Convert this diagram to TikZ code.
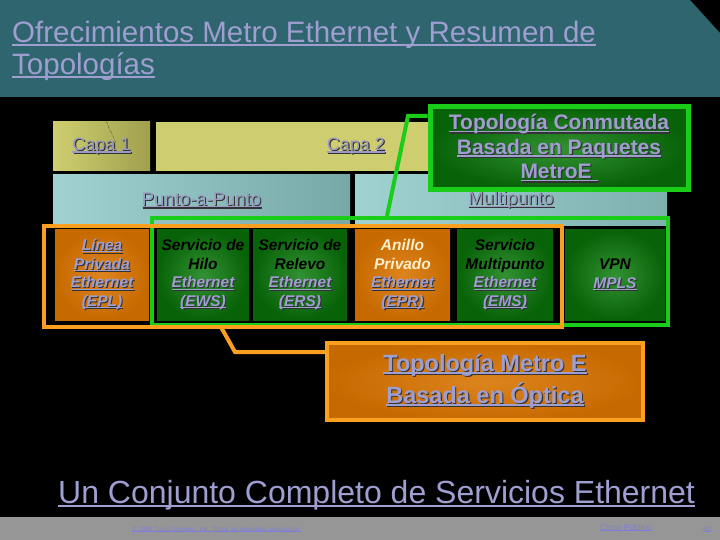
\documentclass[tikz,border=0pt]{standalone}
\usepackage{fontspec}
\setmainfont{Liberation Sans}
\usepackage{tikz}
\usetikzlibrary{calc,positioning}
\definecolor{mebar}{RGB}{47,101,111}
\definecolor{melav}{RGB}{158,158,208}
\definecolor{megray}{RGB}{150,150,150}
\definecolor{meline}{RGB}{25,205,25}
\definecolor{megin}{RGB}{50,145,50}
\definecolor{megout}{RGB}{8,98,8}
\definecolor{meorline}{RGB}{250,160,30}
\definecolor{meorin}{RGB}{222,132,30}
\definecolor{meorout}{RGB}{198,106,0}
\definecolor{meolive}{RGB}{206,206,112}
\definecolor{meolivedk}{RGB}{160,160,78}
\definecolor{mecyan}{RGB}{160,210,210}
\definecolor{mecyandk}{RGB}{118,168,168}
\definecolor{mecream}{RGB}{255,240,205}
\newcommand\ulbar[1]{\setbox0\hbox{#1}\rlap{\rule[-.12em]{\wd0}{.07em}}\box0}
\newcommand\shd[1]{\rlap{\kern1.1pt\raisebox{-1.1pt}{\color{black!80}#1}}#1}
\newcommand\lav[1]{\shd{\ulbar{#1}}}
\newcommand\blk[1]{{\color{black}#1}}
\newcommand\crm[1]{{\color{mecream}#1}}

\begin{document}
\begin{tikzpicture}[x=1pt,y=-1pt,
    lay/.style={minimum height=49,inner sep=0,text=melav!85!gray,font=\fontsize{18}{20}\selectfont},
    cell/.style={minimum width=94,minimum height=90,inner sep=0,align=center,text=melav,
      font=\bfseries\itshape\fontsize{15.5}{18.6}\selectfont},
    grn/.style={cell,inner color=megin,outer color=megout},
    org/.style={cell,inner color=meorin,outer color=meorout},
    frm/.style={draw,line width=4pt,inner sep=0},
    call/.style={line width=4pt},
    big/.style={align=center,text=melav,font=\bfseries\fontsize{21}{24.5}\selectfont}]
  \useasboundingbox (0,0) rectangle (720,540);
  \fill[black] (0,0) rectangle (720,540);
  \fill[mebar] (0,0)--(690,0)--(720,33)--(720,97)--(0,97)--cycle;
  \node[anchor=north west,align=left,inner sep=0,text=melav,font=\fontsize{29.5}{31.5}\selectfont]
    (title) at (12,21) {\ulbar{Ofrecimientos Metro Ethernet y Resumen de}\\\ulbar{Topologías}};

  % capas y modos
  \node[lay,minimum width=97,left color=meolive,right color=meolivedk] (capa1) at (101.5,146.5) {\lav{Capa 1}};
  \node[lay,minimum width=400,fill=meolive] (capa2) at (356,146.5) {\lav{Capa 2}};
  \node[lay,minimum width=297,minimum height=51,left color=mecyan,right color=mecyandk,
    font=\fontsize{18.5}{20}\selectfont] (p2p) at (201.5,200.5) {\lav{Punto-a-Punto}};
  \node[lay,minimum width=312,minimum height=51,left color=mecyan,right color=mecyandk!80!mecyan,
    font=\fontsize{18.5}{20}\selectfont] (mp) at (511,200.5) {\lav{Multipunto}};
  \coordinate (dt1) at (106,121);
  \coordinate (dt2) at (116,143);
  \draw[densely dotted,black,thin] (dt1)--(dt2);

  % servicios
  \node[org] (epl) at (102,275) {\lav{Línea}\\\lav{Privada}\\\lav{Ethernet}\\\lav{(EPL)}};
  \node[grn,minimum width=92] (ews) at (203,275) {\blk{Servicio de}\\\blk{Hilo}\\\lav{Ethernet}\\\lav{(EWS)}};
  \node[grn] (ers) at (300,275) {\blk{Servicio de}\\\blk{Relevo}\\\lav{Ethernet}\\\lav{(ERS)}};
  \node[org,minimum width=95] (epr) at (402.5,275) {\crm{Anillo}\\\crm{Privado}\\\lav{Ethernet}\\\lav{(EPR)}};
  \node[grn,minimum width=96] (ems) at (505,275) {\blk{Servicio}\\\blk{Multipunto}\\\lav{Ethernet}\\\lav{(EMS)}};
  \node[grn,minimum width=100] (vpn) at (615,275) {\blk{VPN}\\\lav{MPLS}};

  \node[frm,draw=meline,minimum width=516,minimum height=107] (gfrm) at (410,271.5) {};
  \node[frm,draw=meorline,minimum width=518,minimum height=101] (ofrm) at (303,276.5) {};

  % llamadas
  \node[big,draw=meline,line width=5pt,minimum width=258,minimum height=83,inner sep=0,
    inner color=megin,outer color=megout] (topcm) at (559,148.5)
    {\lav{Topología Conmutada}\\\lav{Basada en Paquetes}\\\lav{MetroE }};
  \coordinate (gknee) at (408,116);
  \coordinate (gfoot) at (387,216);
  \draw[call,meline] (topcm.west |- gknee)--(gknee)--(gfoot);

  \node[big,draw=meorline,line width=4pt,minimum width=316,minimum height=77,inner sep=0,
    inner color=meorin,outer color=meorout,font=\bfseries\fontsize{23.5}{32}\selectfont]
    (topopt) at (485,381.5) {\lav{Topología Metro E}\\\lav{Basada en Óptica}};
  \coordinate (ostart) at (221,327);
  \coordinate (oknee) at (235,352);
  \draw[call,meorline] (ostart)--(oknee)--(topopt.west |- oknee);

  \node[anchor=base west,inner sep=0,text=melav,font=\fontsize{32}{36}\selectfont]
    (lema) at (58,503) {\ulbar{Un Conjunto Completo de Servicios Ethernet}};

  % pie
  \fill[megray] (0,517) rectangle (720,540);
  \node[anchor=base west,inner sep=0,text=melav!80!blue,font=\fontsize{6.3}{7}\selectfont]
    (copy) at (132,531) {\ulbar{© 2006 Cisco Systems, Inc. Todos los derechos reservados.}};
  \node[anchor=base west,inner sep=0,text=melav!80!blue,font=\fontsize{8.5}{9}\selectfont]
    (pub) at (600,530) {\ulbar{Cisco Público}};
  \node[anchor=base west,inner sep=0,text=melav!80!blue,font=\fontsize{7}{8}\selectfont]
    (pag) at (703,531) {\ulbar{40}};
\end{tikzpicture}
\end{document}
